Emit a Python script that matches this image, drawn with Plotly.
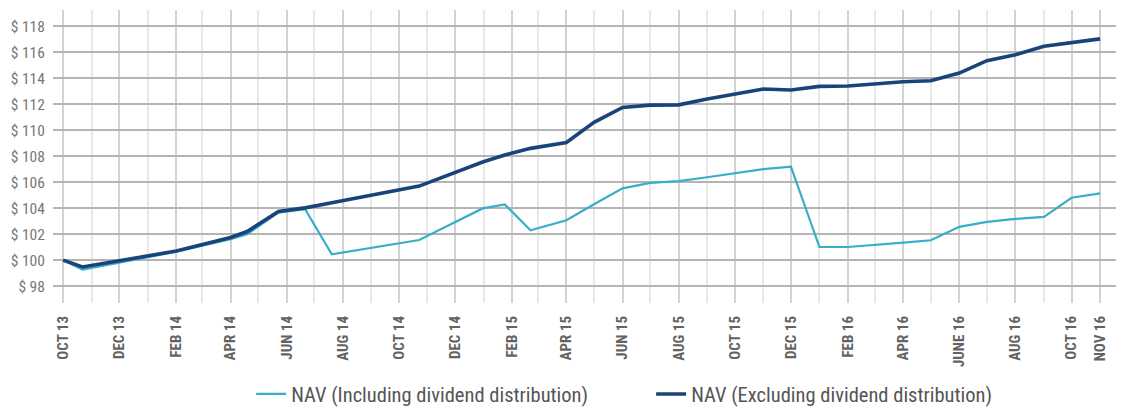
import plotly.graph_objects as go

# Data points (dates of observations) and NAV values
dates = [
    "2013-10-01", "2013-10-22", "2013-12-01", "2014-02-01", "2014-04-01",
    "2014-04-19", "2014-05-23", "2014-06-21", "2014-07-20", "2014-10-23",
    "2014-12-31", "2015-01-24", "2015-02-21", "2015-04-01", "2015-05-01",
    "2015-06-01", "2015-07-01", "2015-08-01", "2015-09-01", "2015-10-01",
    "2015-11-01", "2015-12-01", "2016-01-01", "2016-02-01", "2016-03-01",
    "2016-04-01", "2016-05-01", "2016-06-01", "2016-07-01", "2016-08-01",
    "2016-09-01", "2016-10-01", "2016-11-01",
]
nav_incl = [
    100.0, 99.27, 99.8, 100.65, 101.62,
    102.0, 103.65, 103.92, 100.45, 101.55,
    103.98, 104.29, 102.3, 103.07, 104.3,
    105.52, 105.95, 106.08, 106.38, 106.68,
    107.01, 107.19, 101.01, 101.01, 101.2,
    101.35, 101.53, 102.56, 102.94, 103.17,
    103.33, 104.8, 105.14,
]
nav_excl = [
    100.0, 99.47, 99.95, 100.7, 101.74,
    102.2, 103.75, 104.02, 104.41, 105.7,
    107.55, 108.09, 108.6, 109.05, 110.6,
    111.75, 111.93, 111.95, 112.4, 112.78,
    113.17, 113.09, 113.37, 113.4, 113.55,
    113.73, 113.81, 114.4, 115.35, 115.81,
    116.46, 116.72, 117.03,
]

tick_dates = [
    "2013-10-01", "2013-12-01", "2014-02-01", "2014-04-01", "2014-06-01",
    "2014-08-01", "2014-10-01", "2014-12-01", "2015-02-01", "2015-04-01",
    "2015-06-01", "2015-08-01", "2015-10-01", "2015-12-01", "2016-02-01",
    "2016-04-01", "2016-06-01", "2016-08-01", "2016-10-01", "2016-11-01",
]
tick_labels = [
    "OCT 13", "DEC 13", "FEB 14", "APR 14", "JUN 14",
    "AUG 14", "OCT 14", "DEC 14", "FEB 15", "APR 15",
    "JUN 15", "AUG 15", "OCT 15", "DEC 15", "FEB 16",
    "APR 16", "JUNE 16", "AUG 16", "OCT 16", "NOV 16",
]

NARROW = "Liberation Sans Narrow, Arial Narrow, Roboto Condensed, sans-serif"

fig = go.Figure()
fig.add_trace(go.Scatter(
    x=dates, y=nav_incl, mode="lines",
    name="NAV (Including dividend distribution)",
    line=dict(color="#3AADC8", width=2.2),
))
fig.add_trace(go.Scatter(
    x=dates, y=nav_excl, mode="lines",
    name="NAV (Excluding dividend distribution)",
    line=dict(color="#1A4479", width=3.6),
))

fig.update_layout(
    width=1116, height=425,
    margin=dict(l=45, r=0, t=2, b=130),
    paper_bgcolor="white", plot_bgcolor="white",
    showlegend=True,
    legend=dict(
        orientation="h", x=0.185, xanchor="left", y=-0.311, yanchor="middle",
        font=dict(family=NARROW, size=20.5, color="#555555"),
        entrywidth=355, entrywidthmode="pixels",
        tracegroupgap=0,
    ),
    xaxis=dict(
        type="date",
        range=["2013-09-20", "2016-11-27"],
        tickmode="array", tickvals=tick_dates, ticktext=tick_labels,
        tickangle=-90,
        tickfont=dict(family=NARROW, size=15, color="#636363", weight="bold"),
        showgrid=True, gridcolor="#d2d2d2", gridwidth=2,
        minor=dict(dtick="M1", tick0="2013-10-01", showgrid=True,
                   gridcolor="#e8e8e8", gridwidth=1.5),
        zeroline=False, showline=False,
        ticks="outside", ticklen=6, tickcolor="rgba(0,0,0,0)",
        automargin=False,
    ),
    yaxis=dict(
        range=[96.7, 119.25], tick0=98, dtick=2,
        tickprefix="$ ",
        tickfont=dict(family=NARROW, size=15.5, color="#777777"),
        showgrid=True, gridcolor="#b4b4b4", gridwidth=1.5,
        zeroline=False, showline=False,
        ticks="outside", ticklen=4, tickcolor="rgba(0,0,0,0)",
        automargin=False,
    ),
)

fig.write_html("out.html")
